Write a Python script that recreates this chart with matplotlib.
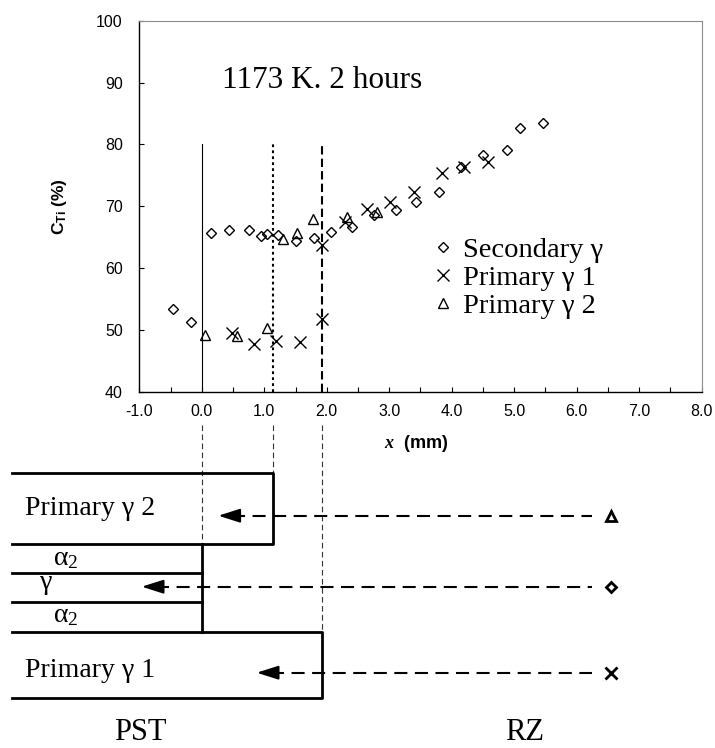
import matplotlib.pyplot as plt

plt.rcParams['font.family'] = 'Liberation Sans'
plt.rcParams['axes.unicode_minus'] = False
plt.rcParams['mathtext.fontset'] = 'custom'
plt.rcParams['mathtext.rm'] = 'Liberation Serif'
plt.rcParams['mathtext.it'] = 'Liberation Serif:italic:bold'
plt.rcParams['mathtext.bf'] = 'Liberation Sans:bold'
plt.rcParams['lines.scale_dashes'] = False

SERIF = 'Liberation Serif'

# values
sec_x = [-0.46, -0.17, 0.15, 0.44, 0.76, 0.95, 1.05, 1.22, 1.51, 1.80, 2.07,
         2.41, 2.76, 3.11, 3.43, 3.80, 4.15, 4.50, 4.88, 5.10, 5.46]
sec_y = [53.3, 51.3, 65.7, 66.2, 66.2, 65.1, 65.5, 65.4, 64.3, 64.8, 65.9,
         66.6, 68.5, 69.4, 70.7, 72.3, 76.4, 78.3, 79.1, 82.7, 83.5]

p1_x = [0.49, 0.84, 1.19, 1.57, 1.92, 1.92, 2.29, 2.64, 3.01, 3.39, 3.84, 4.20, 4.58]
p1_y = [49.5, 47.7, 48.2, 48.1, 51.7, 63.7, 67.4, 69.6, 70.7, 72.3, 75.3, 76.4, 77.2]

p2_x = [0.05, 0.56, 1.05, 1.30, 1.53, 1.78, 2.32, 2.81]
p2_y = [49.2, 49.0, 50.3, 64.7, 65.7, 67.9, 68.3, 69.0]

# interface positions (mm): gamma/alpha2 colony edge, primary gamma 2 edge, primary gamma 1 edge
boundary_x = [0.0, 1.14, 1.92]

xticks = [-1, 0, 1, 2, 3, 4, 5, 6, 7, 8]
xtick_labels = ['-1.0', '0.0', '1.0', '2.0', '3.0', '4.0', '5.0', '6.0', '7.0', '8.0']
xminor = [-0.5, 0.5, 1.5, 2.5, 3.5, 4.5, 5.5, 6.5, 7.5]
yticks = [40, 50, 60, 70, 80, 90, 100]

W, H = 715, 748
fig = plt.figure(figsize=(W / 100, H / 100), dpi=100)
ax = fig.add_axes([139.3 / W, 1 - 391.7 / H, 562.4 / W, 371 / H])

ax.plot(sec_x, sec_y, 'D', ms=5, mfc='none', mec='black', mew=1, ls='none', label='Secondary γ')
ax.plot(p1_x, p1_y, 'x', ms=8.5, mec='black', mew=1, ls='none', label='Primary γ 1')
ax.plot(p2_x, p2_y, '^', ms=7.5, mfc='none', mec='black', mew=1, ls='none', label='Primary γ 2')

# interface lines
ax.plot([boundary_x[0]] * 2, [40, 80], color='black', lw=0.8)
ax.plot([boundary_x[1]] * 2, [40, 80], color='black', lw=1.5, ls=(0, (2, 2.3)))
ax.plot([boundary_x[2]] * 2, [40, 80], color='black', lw=1.5, ls=(0, (6, 3)))

ax.set_xlim(-1, 8)
ax.set_ylim(40, 100)
ax.set_xticks(xticks)
ax.set_xticklabels(xtick_labels)
ax.set_xticks(xminor, minor=True)
ax.set_yticks(yticks)
ax.tick_params(which='both', direction='in', length=3.5, width=0.8, labelsize=11.5)
ax.tick_params(axis='x', pad=9)
ax.tick_params(axis='y', pad=12)
for side in ['top', 'right']:
    ax.spines[side].set_color('#8c8c8c')
for side in ['left', 'bottom']:
    ax.spines[side].set_color('black')
    ax.spines[side].set_linewidth(1.0)

ax.set_ylabel(r'C$_{\mathbf{Ti}}$ (%)', fontweight='bold', fontsize=12.5)
ax.yaxis.set_label_coords(-0.125, 0.5)
ax.set_xlabel(r'$\mathit{x}$  (mm)', fontweight='bold', fontsize=13)
ax.xaxis.set_label_coords(0.493, -0.112)

ax.text(0.1476, 0.819, '1173 K. 2 hours', transform=ax.transAxes, family=SERIF,
        fontsize=22.5, va='baseline', ha='left')

ax.legend(loc='upper left', bbox_to_anchor=(0.5245, 0.418), frameon=False,
          prop={'family': SERIF, 'size': 20.5}, handlelength=0.6, handletextpad=0.4,
          labelspacing=0.08, borderpad=0, borderaxespad=0)

# schematic of the diffusion couple underneath, in pixel space
ax2 = fig.add_axes([0, 0, 1, 1])
ax2.set_xlim(0, W)
ax2.set_ylim(H, 0)
ax2.axis('off')

bx = [ax.transData.transform((b, 40))[0] for b in boundary_x]
left = 11.7
lw = 2.0

# thin guides dropping from the interfaces
ax2.plot([bx[0], bx[0]], [425, 544.3], color='#333333', lw=0.8, ls=(0, (4, 2.5)))
ax2.plot([bx[1], bx[1]], [425, 472.7], color='#333333', lw=0.8, ls=(0, (4, 2.5)))
ax2.plot([bx[2], bx[2]], [425, 631.7], color='#333333', lw=0.8, ls=(0, (4, 2.5)))

# primary gamma 2 block
ax2.plot([left, bx[1], bx[1], left], [472.7, 472.7, 544.3, 544.3], color='black', lw=lw)
# alpha2 / gamma lamellae
ax2.plot([bx[0], bx[0]], [544.3, 631.7], color='black', lw=lw)
ax2.plot([left, bx[0]], [573.3, 573.3], color='black', lw=lw)
ax2.plot([left, bx[0]], [601.7, 601.7], color='black', lw=lw)
# primary gamma 1 block
ax2.plot([left, bx[2], bx[2], left], [631.7, 631.7, 697.7, 697.7], color='black', lw=lw)

ax2.text(25, 515, 'Primary γ 2', family=SERIF, fontsize=20, va='baseline')
ax2.text(25, 676.7, 'Primary γ 1', family=SERIF, fontsize=20, va='baseline')
ax2.text(53, 565, 'α$_2$', family=SERIF, fontsize=20, va='baseline')
ax2.text(40, 589, 'γ', family=SERIF, fontsize=20, va='baseline')
ax2.text(53, 621.7, 'α$_2$', family=SERIF, fontsize=20, va='baseline')
ax2.text(140, 740, 'PST', family=SERIF, fontsize=22, va='baseline', ha='center')
ax2.text(525, 740, 'RZ', family=SERIF, fontsize=22, va='baseline', ha='center')

# arrows from the reaction zone back into the PST
arrow_rows = [(515.7, 218.3, '^', 7.5), (586.7, 141.7, 'D', 5), (672.7, 256.7, 'x', 8)]
for y, tip, mk, ms in arrow_rows:
    ax2.plot([tip + 14, 591.7], [y, y], color='black', lw=1.5, ls=(0, (9.4, 5.4)))
    ax2.annotate('', xy=(tip, y), xytext=(tip + 18, y),
                 arrowprops=dict(arrowstyle='-|>,head_length=1.1,head_width=0.35',
                                 mutation_scale=12, lw=1.5, color='black',
                                 shrinkA=0, shrinkB=0))
    ax2.plot([610.7], [y], marker=mk, ms=ms, mfc='none', mec='black', mew=2)

fig.savefig('out.png', dpi=100)
